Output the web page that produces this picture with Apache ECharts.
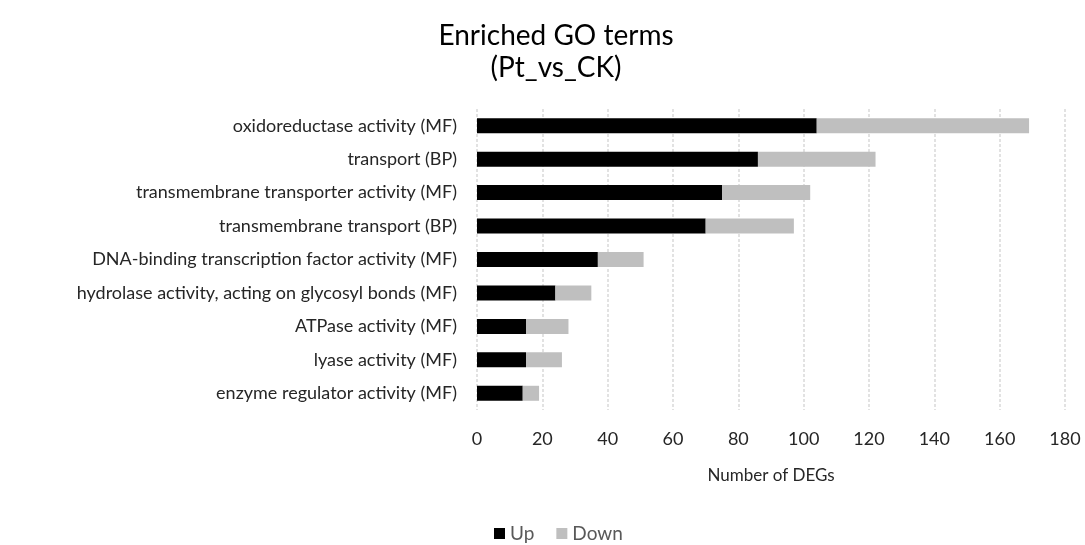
<!DOCTYPE html>
<html>
<head>
<meta charset="utf-8">
<script src="https://cdn.jsdelivr.net/npm/echarts@6/dist/echarts.min.js"></script>
<style>
  html, body { margin: 0; padding: 0; background: #fff; }
  #chart { width: 1085px; height: 545px; }
</style>
</head>
<body>
<div id="chart"></div>
<script>
const categories = [
  'oxidoreductase activity (MF)',
  'transport (BP)',
  'transmembrane transporter activity (MF)',
  'transmembrane transport (BP)',
  'DNA-binding transcription factor activity (MF)',
  'hydrolase activity, acting on glycosyl bonds (MF)',
  'ATPase activity (MF)',
  'lyase activity (MF)',
  'enzyme regulator activity (MF)'
]
const upValues = [104, 86, 75, 70, 37, 24, 15, 15, 14]
const downValues = [65, 36, 27, 27, 14, 11, 13, 11, 5]

const font = 'Lato, "Open Sans", sans-serif'
const chart = echarts.init(document.getElementById('chart'))

chart.setOption({
  animation: false,
  textStyle: { fontFamily: font },
  title: {
    text: 'Enriched GO terms\n(Pt_vs_CK)',
    left: 551,
    top: 15,
    textAlign: 'center',
    textStyle: {
      fontFamily: font,
      fontSize: 28,
      fontWeight: 'normal',
      color: '#000',
      lineHeight: 32
    }
  },
  legend: {
    bottom: -3,
    left: 489,
    icon: 'rect',
    itemWidth: 11,
    itemHeight: 11,
    itemGap: 22,
    textStyle: { fontFamily: font, fontSize: 19, color: '#595959' },
    data: ['Up', 'Down']
  },
  grid: {
    left: 477,
    right: 20,
    top: 109,
    bottom: 135
  },
  xAxis: {
    type: 'value',
    min: 0,
    max: 180,
    interval: 20,
    name: 'Number of DEGs',
    nameLocation: 'middle',
    nameGap: 57,
    nameTextStyle: { fontFamily: font, fontSize: 17, color: '#262626' },
    axisLine: { show: false },
    axisTick: { show: false },
    axisLabel: { fontFamily: font, fontSize: 18, color: '#262626', margin: 20 },
    splitLine: { lineStyle: { color: '#d9d9d9', type: [3, 2], width: 1.5 } }
  },
  yAxis: {
    type: 'category',
    inverse: true,
    data: categories,
    axisLine: { show: false },
    axisTick: { show: false },
    axisLabel: { fontFamily: font, fontSize: 18, color: '#262626', margin: 20 }
  },
  series: [
    {
      name: 'Up',
      type: 'bar',
      stack: 'total',
      barWidth: 15,
      itemStyle: { color: '#000000' },
      data: upValues
    },
    {
      name: 'Down',
      type: 'bar',
      stack: 'total',
      barWidth: 15,
      itemStyle: { color: '#bfbfbf' },
      data: downValues
    }
  ]
})
</script>
</body>
</html>
